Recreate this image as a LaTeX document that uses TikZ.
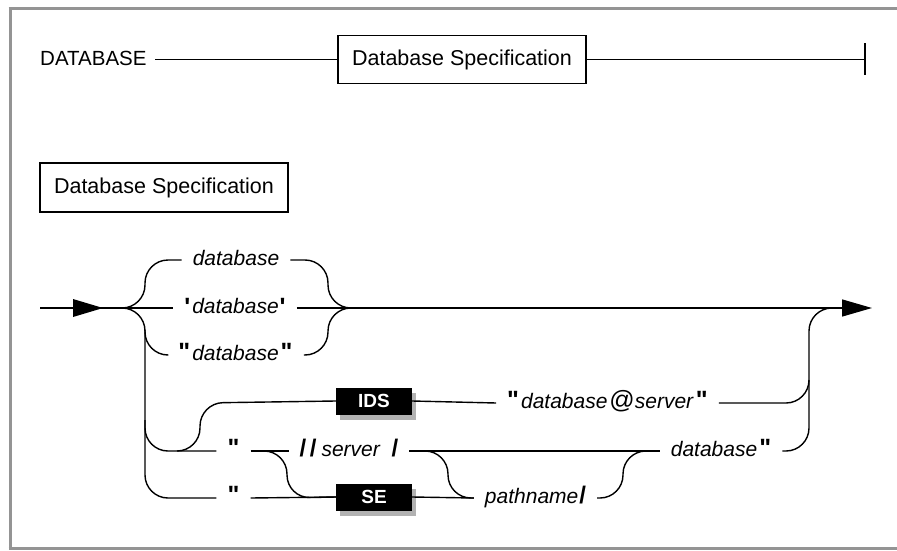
\documentclass[tikz,border=0pt]{standalone}
\usepackage{fontspec}
\setmainfont{Liberation Sans}
\usetikzlibrary{arrows.meta,shadows}
\newcommand\myqd{{\fontsize{25}{28}\selectfont\bfseries\textquotedbl}}
\newcommand\myqs{{\fontsize{25}{28}\selectfont\bfseries\raisebox{-2pt}{\textquotesingle}}}
\newcommand\myslash{{\fontsize{24}{26}\selectfont\bfseries /}}
\begin{document}
\begin{tikzpicture}[x=1pt,y=-1pt,
  conn/.style={line width=1.4pt, line join=round},
  rc/.style={conn, rounded corners=23pt},
  frameline/.style={line width=3pt, color=black!42},
  rtext/.style={inner xsep=11pt, inner ysep=0pt, text height=11pt, text depth=0pt, font=\fontsize{21}{25}\selectfont},
  kbox/.style={fill=black, text=white, font=\fontsize{19}{22}\selectfont\bfseries, minimum width=76pt, minimum height=27pt, inner sep=0pt, drop shadow={shadow xshift=4pt, shadow yshift=-5pt, fill=black!30, opacity=1}},
  sbox/.style={draw, line width=1.2pt, minimum width=248pt, minimum height=48pt, inner sep=0pt, font=\fontsize{21.5}{25}\selectfont},
]
\useasboundingbox (0,0) rectangle (897,551);
% frame (open on the right, as in the reference): three separate strokes
\draw[frameline] (8.5,9) -- (897,9);
\draw[frameline] (10,7.5) -- (10,549.5);
\draw[frameline] (8.5,548) -- (897,548);

% top syntax line
\node[anchor=base west, inner sep=0pt, font=\fontsize{20.5}{24}\selectfont] (kw) at (40,66) {DATABASE};
\node[sbox] (spec1) at (462,59.5) {Database Specification};
\coordinate (l1) at (155,59.5);
\coordinate (bar) at (865,59.5);
\draw[conn] (l1) -- (spec1.west);
\draw[conn] (spec1.east) -- (bar);
\draw[conn] (bar) ++(0,-16) -- ++(0,32);

\node[sbox, minimum height=49pt] (spec2) at (164,187.5) {Database Specification};

% text nodes
\node[rtext] (d1) at (236,260) {\textit{database}};
\node[rtext] (d2) at (235,308) {\myqs\hspace{2pt}\textit{database}\hspace{1pt}\myqs};
\node[rtext] (d3) at (235.5,355) {\myqd\hspace{2pt}\textit{database}\hspace{2pt}\myqd};
\node[kbox] (ids) at (374,401) {IDS};
\node[rtext] (ds) at (607.5,403) {\myqd\hspace{2pt}\textit{database}\hspace{2pt}{\fontsize{25}{26}\selectfont @}\textit{server}\hspace{2pt}\myqd};
\node[rtext] (q1) at (233.5,451) {\myqd};
\node[rtext] (q2) at (233.5,498) {\myqd};
\node[rtext] (sv) at (349,451) {\myslash\hspace{3.5pt}\myslash\hspace{5pt}\textit{server}\hspace{11pt}\myslash};
\node[kbox] (se) at (374,497) {SE};
\node[rtext] (pn) at (535.5,498) {\textit{pathname}\hspace{1pt}\myslash};
\node[rtext] (dq) at (721,451) {\textit{database}\hspace{2pt}\myqd};

\coordinate (start) at (40,308);
\coordinate (split) at (122,308);
\coordinate (join) at (351,308);
\coordinate (finish) at (872,308);

% entry with arrowhead
\draw[conn] (start) -- (d2.west);
\fill (73,299) -- (103,308) -- (73,317) -- cycle;
% main line with end arrow
\draw[conn, -{Triangle[length=30pt,width=17pt]}] (d2.east) -- (finish);

% left brace
\draw[rc] (split) -| (145,260) -- (d1.west);
\draw[rc] (split) -| (145,498) -- (q2.west);
\draw[rc] (145,330) |- (d3.west);
\draw[rc] (145,420) |- (q1.west);

% right brace
\draw[rc] (d1.east) -| (328,308) -- (join);
\draw[rc] (d3.east) -| (328,308) -- (join);

% IDS branch
\draw[rc] (177,451) -| (200,403) -- (ids.west);
\draw[conn] (ids.east) -- (ds.west);
\draw[rc] (ds.east) -| (809,380);

% server / SE rows
\draw[conn] (q1.east) -- (sv.west);
\draw[rc] (263,451) -| (287,498) -- (se.west);
\draw[conn] (q2.east) -- (se.west);
\draw[conn] (sv.east) -- (dq.west);
\draw[rc] (425,451) -| (448,498) -- (pn.west);
\draw[conn] (se.east) -- (pn.west);
\draw[rc] (pn.east) -| (623,451) -- (647,451);
\draw[rc] (dq.east) -| (809,308) -- (832,308);
\end{tikzpicture}
\end{document}
